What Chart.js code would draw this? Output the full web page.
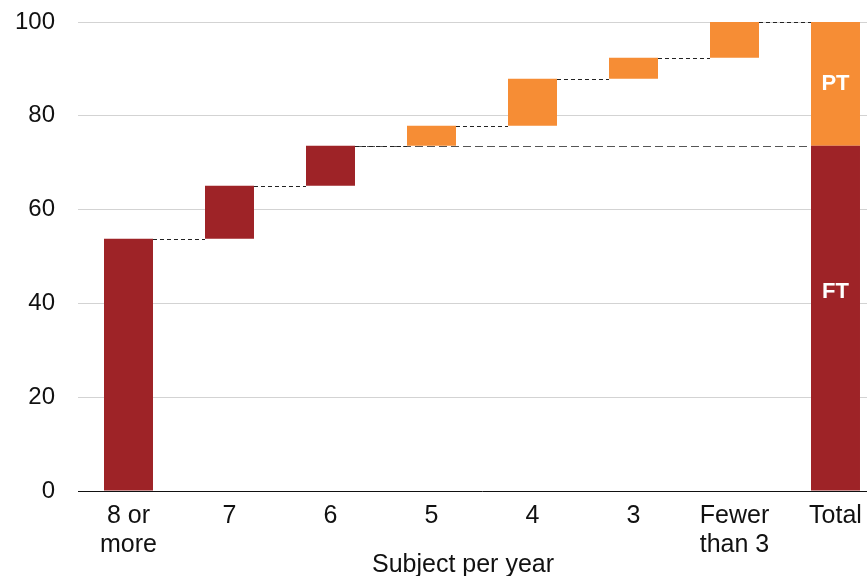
<!DOCTYPE html>
<html>
<head>
<meta charset="utf-8">
<script src="https://cdn.jsdelivr.net/npm/chart.js@4"></script>
<style>
  html, body { margin: 0; padding: 0; background: #fff; overflow: hidden; }
  #wrap { width: 890px; height: 576px; }
</style>
</head>
<body>
<div id="wrap"><canvas id="grafico" width="890" height="576"></canvas></div>
<script>
// categorias del eje x
const categorias = [['8 or', 'more'], '7', '6', '5', '4', '3', ['Fewer', 'than 3'], 'Total'];
// nivel acumulado (%) al final de cada escalon
const niveles = [53.8, 65.1, 73.6, 77.9, 87.9, 92.4, 100];
// cuantos escalones son FT (el resto PT)
const numFT = 3;
const yTicks = [0, 20, 40, 60, 80, 100];
const etiquetasTotal = [{ texto: 'FT', valor: 42.5 }, { texto: 'PT', valor: 86.8 }];

const rojo = '#9e2327';
const naranja = '#f68d35';
const fuente = "'Liberation Sans', Arial, sans-serif";

// barras flotantes [inicio, fin]
const datosFT = [];
const datosPT = [];
niveles.forEach((nivel, i) => {
    const inicio = i === 0 ? 0 : niveles[i - 1];
    if (i < numFT) { datosFT.push([inicio, nivel]); datosPT.push(null); }
    else { datosFT.push(null); datosPT.push([inicio, nivel]); }
});
const nivelFT = niveles[numFT - 1];
datosFT.push([0, nivelFT]);
datosPT.push([nivelFT, niveles[niveles.length - 1]]);

// lineas punteadas entre escalones + textos
const conectores = {
    id: 'conectores',
    afterDatasetsDraw(chart) {
        const ctx = chart.ctx;
        const x = chart.scales.x, y = chart.scales.y;
        const barra = chart.getDatasetMeta(0).data[0];
        const medio = barra.width / 2;
        ctx.save();
        ctx.lineWidth = 1;
        // linea larga al nivel FT
        ctx.setLineDash([8, 4]);
        ctx.strokeStyle = '#555';
        let yy = Math.round(y.getPixelForValue(nivelFT)) + 0.5;
        ctx.beginPath();
        ctx.moveTo(x.getPixelForValue(numFT - 1) + medio, yy);
        ctx.lineTo(x.getPixelForValue(categorias.length - 1) - medio, yy);
        ctx.stroke();
        ctx.strokeStyle = '#222';
        ctx.setLineDash([4, 3]);
        for (let i = 0; i < niveles.length; i++) {
            yy = Math.round(y.getPixelForValue(niveles[i])) + 0.5;
            ctx.beginPath();
            ctx.moveTo(x.getPixelForValue(i) + medio, yy);
            ctx.lineTo(x.getPixelForValue(i + 1) - medio, yy);
            ctx.stroke();
        }
        ctx.setLineDash([]);
        // FT / PT
        ctx.fillStyle = '#fff';
        ctx.font = 'bold 22px ' + fuente;
        ctx.textAlign = 'center';
        ctx.textBaseline = 'middle';
        etiquetasTotal.forEach(e => {
            ctx.fillText(e.texto, x.getPixelForValue(categorias.length - 1), y.getPixelForValue(e.valor));
        });
        // titulo del eje x
        ctx.fillStyle = '#111';
        ctx.font = '25px ' + fuente;
        ctx.fillText('Subject per year', 463, 565);
        ctx.restore();
    }
};

new Chart(document.getElementById('grafico'), {
    type: 'bar',
    data: {
        labels: categorias,
        datasets: [
            { label: 'FT', data: datosFT, backgroundColor: rojo },
            { label: 'PT', data: datosPT, backgroundColor: naranja }
        ]
    },
    options: {
        responsive: false,
        animation: false,
        grouped: false,
        barPercentage: 0.485,
        categoryPercentage: 1,
        layout: { padding: { top: 22, right: 4, left: 0, bottom: 0 } },
        plugins: { legend: { display: false }, tooltip: { enabled: false } },
        scales: {
            x: {
                grid: { display: false },
                border: { color: '#111', width: 1 },
                ticks: { color: '#111', font: { family: fuente, size: 25, lineHeight: 1.16 }, padding: 3, maxRotation: 0, autoSkip: false },
                afterFit(scale) { scale.height = 85; }
            },
            y: {
                min: 0, max: 100,
                afterBuildTicks(scale) { scale.ticks = yTicks.map(v => ({ value: v })); },
                grid: {
                    drawTicks: false,
                    color: c => c.tick.value === 0 ? 'rgba(0,0,0,0)' : '#d3d3d3'
                },
                border: { display: false },
                ticks: { color: '#111', font: { family: fuente, size: 24 }, padding: 23 },
                afterFit(scale) { scale.width = 78; scale.paddingTop = 0; scale.paddingBottom = 0; }
            }
        }
    },
    plugins: [conectores]
});
</script>
</body>
</html>
